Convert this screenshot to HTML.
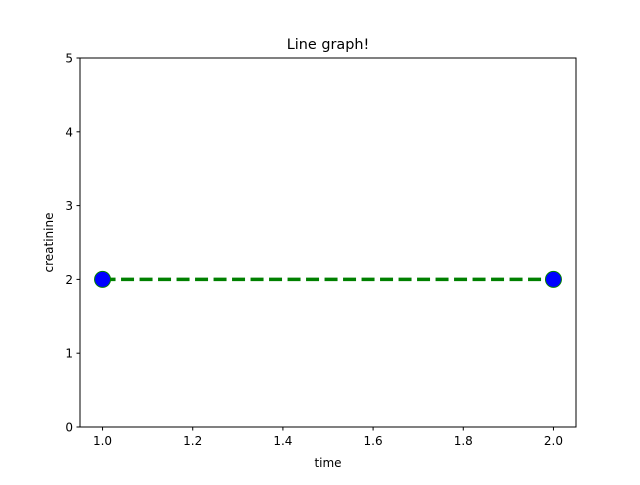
<!DOCTYPE html>
<html><head><meta charset="utf-8"><style>
body{margin:0;background:#fff}
svg text{font-family:"DejaVu Sans","Liberation Sans",sans-serif;fill:#000}
</style></head><body>
<svg id="chart" width="640" height="480">
<rect width="640" height="480" fill="#fff"/>
<text x="328" y="49" font-size="14.4" text-anchor="middle">Line graph!</text>
<g id="xt"></g><g id="yt"></g><g id="plot"></g>
<rect x="80" y="58" width="496" height="369" fill="none" stroke="#000" stroke-width="1"/>
<text x="328" y="467" font-size="12" text-anchor="middle">time</text>
<text transform="translate(53,242.5) rotate(-90)" font-size="12" text-anchor="middle">creatinine</text>
</svg>
<script>
const xValues=[1.0,2.0];
const yValues=[2,2];
const xTicks=[1.0,1.2,1.4,1.6,1.8,2.0];
const yTicks=[0,1,2,3,4,5];
const L=80,R=576,T=58,B=427,x0=0.95,x1=2.05,y0=0,y1=5;
const sx=v=>L+(v-x0)/(x1-x0)*(R-L);
const sy=v=>B-(v-y0)/(y1-y0)*(B-T);
const NS="http://www.w3.org/2000/svg";
function mk(tag,attrs,parent){const e=document.createElementNS(NS,tag);for(const k in attrs)e.setAttribute(k,attrs[k]);parent.appendChild(e);return e;}
const xt=document.getElementById('xt'),yt=document.getElementById('yt'),plot=document.getElementById('plot');
xTicks.forEach(v=>{const x=sx(v);
const l=mk('line',{x1:x,x2:x,y1:B,y2:B+3.5,stroke:'#000'},xt);


const t=mk('text',{x:x,y:B+18,'font-size':'12','text-anchor':'middle'},xt);t.textContent=v.toFixed(1);

});
yTicks.forEach(v=>{const y=sy(v);
const l=mk('line',{x1:L-3.5,x2:L,y1:y,y2:y,stroke:'#000'},yt);


const t=mk('text',{x:L-7,y:y+4.5,'font-size':'12','text-anchor':'end'},yt);t.textContent=v;

});
const pts=xValues.map((v,i)=>sx(v)+','+sy(yValues[i])).join(' ');
const pl=mk('polyline',{points:pts,fill:'none',stroke:'#008000','stroke-width':'3.5','stroke-dasharray':'13 5.5'},plot);


xValues.forEach((v,i)=>{const c=mk('circle',{cx:sx(v),cy:sy(yValues[i]),r:8,fill:'#0000ff',stroke:'#008000','stroke-width':'1'},plot);

});
</script>
</body></html>
